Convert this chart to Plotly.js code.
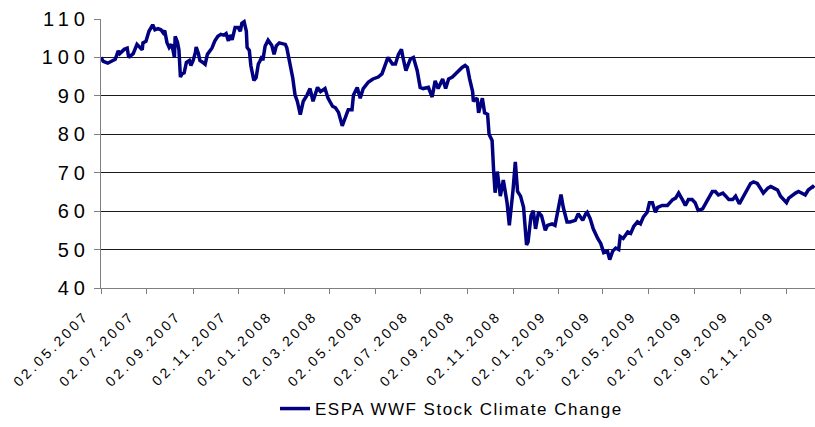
<!DOCTYPE html>
<html>
<head>
<meta charset="utf-8">
<script src="https://cdn.plot.ly/plotly-3.0.1.min.js"></script>
<style>
  html, body { margin: 0; padding: 0; background: #fff; }
  #chart { width: 815px; height: 427px; }
  .xtick text { letter-spacing: 3px; }
  .ytick text { letter-spacing: 5px; }
  .legendtext { letter-spacing: 1.5px; }
</style>
</head>
<body>
<div id="chart"></div>
<script>
const seriesName = "ESPA WWF Stock Climate Change";

const dates = [
  "2007-05-02","2007-05-05","2007-05-11","2007-05-17","2007-05-21","2007-05-25","2007-05-27","2007-06-02","2007-06-06","2007-06-08",
  "2007-06-14","2007-06-19","2007-06-23","2007-06-26","2007-06-27","2007-07-01","2007-07-05","2007-07-10","2007-07-13","2007-07-17",
  "2007-07-21","2007-07-24","2007-07-26","2007-07-29","2007-08-01","2007-08-04","2007-08-06","2007-08-08","2007-08-09","2007-08-12",
  "2007-08-14","2007-08-16","2007-08-18","2007-08-21","2007-08-24","2007-08-28","2007-08-30","2007-09-02","2007-09-05","2007-09-06",
  "2007-09-09","2007-09-11","2007-09-15","2007-09-18","2007-09-21","2007-09-23","2007-09-27","2007-10-01","2007-10-05","2007-10-09",
  "2007-10-13","2007-10-16","2007-10-19","2007-10-21","2007-10-24","2007-10-28","2007-11-01","2007-11-04","2007-11-06","2007-11-09",
  "2007-11-12","2007-11-13","2007-11-16","2007-11-18","2007-11-22","2007-11-25","2007-11-28","2007-11-30","2007-12-03","2007-12-04",
  "2007-12-07","2007-12-11","2007-12-14","2007-12-16","2007-12-19","2007-12-22","2007-12-26","2007-12-30","2008-01-03","2008-01-05",
  "2008-01-08","2008-01-11","2008-01-13","2008-01-16","2008-01-19","2008-01-23","2008-01-27","2008-02-01","2008-02-05","2008-02-09",
  "2008-02-15","2008-02-19","2008-02-25","2008-02-29","2008-03-06","2008-03-10","2008-03-14","2008-03-19","2008-03-23","2008-03-27",
  "2008-04-01","2008-04-03","2008-04-08","2008-04-12","2008-04-16","2008-04-23","2008-04-29","2008-05-06","2008-05-11","2008-05-15",
  "2008-05-19","2008-05-25","2008-05-29","2008-06-02","2008-06-06","2008-06-08","2008-06-12","2008-06-18","2008-06-22","2008-06-27",
  "2008-07-01","2008-07-05","2008-07-12","2008-07-17","2008-07-21","2008-07-25","2008-07-31","2008-08-04","2008-08-08","2008-08-13",
  "2008-08-17","2008-08-21","2008-08-26","2008-08-30","2008-09-02","2008-09-05","2008-09-09","2008-09-10","2008-09-15","2008-09-17",
  "2008-09-22","2008-09-25","2008-09-29","2008-10-01","2008-10-05","2008-10-07","2008-10-09","2008-10-12","2008-10-16","2008-10-20",
  "2008-10-25","2008-10-28","2008-11-01","2008-11-02","2008-11-05","2008-11-08","2008-11-12","2008-11-16","2008-11-20","2008-11-22",
  "2008-11-26","2008-11-29","2008-12-02","2008-12-06","2008-12-10","2008-12-15","2008-12-18","2008-12-24","2008-12-28","2009-01-01",
  "2009-01-05","2009-01-08","2009-01-13","2009-01-17","2009-01-24","2009-01-28","2009-02-03","2009-02-07","2009-02-09","2009-02-13",
  "2009-02-17","2009-02-23","2009-02-27","2009-03-03","2009-03-08","2009-03-11","2009-03-15","2009-03-19","2009-03-23","2009-03-25",
  "2009-03-29","2009-04-04","2009-04-08","2009-04-12","2009-04-17","2009-04-21","2009-04-25","2009-04-30","2009-05-03","2009-05-07",
  "2009-05-11","2009-05-14","2009-05-20","2009-05-27","2009-06-03","2009-06-07","2009-06-11","2009-06-16","2009-06-20","2009-06-24",
  "2009-06-29","2009-07-03","2009-07-07","2009-07-13","2009-07-17","2009-07-21","2009-07-26","2009-07-30","2009-08-03","2009-08-09",
  "2009-08-13","2009-08-17","2009-08-22","2009-08-26","2009-08-31","2009-09-06","2009-09-11","2009-09-15","2009-09-19","2009-09-24",
  "2009-09-28","2009-10-02","2009-10-08","2009-10-12","2009-10-16","2009-10-21","2009-10-25","2009-10-29","2009-11-02","2009-11-05",
  "2009-11-10","2009-11-14","2009-11-18","2009-11-23","2009-11-27","2009-12-01","2009-12-07","2009-12-09"
];

const values = [
  100, 99, 98.5, 99, 99.5, 101.7, 101, 102.1, 102.4, 100,
  101, 103.4, 102.5, 102, 103.8, 104.2, 106.8, 108.5, 107.2, 107.5,
  107.2, 106.4, 107, 103.9, 102.6, 103.4, 102, 100, 105.5, 104,
  102, 94.9, 95.7, 96, 98.7, 99.2, 97.9, 99.2, 101.3, 102.7,
  101, 99.2, 98.7, 98.2, 100.8, 101.3, 102.4, 104.3, 105.5, 106,
  105.8, 106.2, 104.3, 105.8, 104.6, 107.8, 107.8, 106.8, 108.9, 109.3,
  106.8, 102.6, 101.8, 97.9, 94, 94.7, 98.3, 99, 100.3, 99.2,
  102.9, 104.5, 103.7, 103.1, 100.8, 103, 103.8, 103.5, 103.4, 102.5,
  99.6, 96.6, 94.6, 90.2, 88.6, 85.1, 88.6, 90.2, 91.9, 88.6,
  92.2, 91.1, 91.9, 89.4, 87.3, 86.9, 85.7, 82.2, 84.2, 86.4,
  86.4, 90.2, 92.2, 89.4, 91.9, 93.6, 94.4, 94.9, 95.7, 97.8,
  100, 98.3, 98.3, 100.8, 102.1, 100, 96.6, 99.6, 100, 96.6,
  92.2, 91.9, 92.2, 89.7, 93.9, 91.9, 94.4, 91.9, 94.4, 94.9,
  95.7, 96.6, 97.4, 97.9, 97.4, 94.4, 91.1, 88.6, 89.4, 85.6,
  89.4, 85.6, 85.2, 80, 78.4, 70.7, 64.8, 70.3, 63.9, 68.1,
  62.2, 56.3, 62.6, 65.6, 72.8, 65.1, 63.9, 61, 51.2, 52,
  58.8, 60.1, 55.4, 59.7, 58.8, 55, 56.3, 56.7, 56.3, 60.5,
  64.3, 61, 57.2, 57.2, 57.6, 59.3, 57.6, 59.3, 59.7, 58,
  55.4, 52.9, 51.6, 49.2, 49.6, 47.4, 49.6, 50.4, 50, 53.4,
  52.9, 54.6, 54.2, 56, 57.2, 56.7, 58.5, 59.7, 62.2, 62.2,
  59.7, 61, 61.5, 61.5, 63, 63.4, 64.7, 63, 61.5, 63,
  63, 62.2, 60.2, 60.6, 62.2, 63.4, 65.1, 65.1, 64.2, 64.7,
  63.9, 63, 63, 63.9, 61.9, 63.9, 65.5, 67.2, 67.6, 67.2,
  66, 64.7, 66, 66.4, 66, 65.5, 63.9, 63, 62.2, 63.4,
  64.2, 64.7, 65.1, 64.7, 64.2, 65.5, 66.4, 66
];

const xTickDates = [
  "2007-05-02","2007-07-02","2007-09-02","2007-11-02","2008-01-02","2008-03-02","2008-05-02","2008-07-02",
  "2008-09-02","2008-11-02","2009-01-02","2009-03-02","2009-05-02","2009-07-02","2009-09-02","2009-11-02"
];
const xTickLabels = [
  "02.05.2007","02.07.2007","02.09.2007","02.11.2007","02.01.2008","02.03.2008","02.05.2008","02.07.2008",
  "02.09.2008","02.11.2008","02.01.2009","02.03.2009","02.05.2009","02.07.2009","02.09.2009","02.11.2009"
];
const yTickVals = [40, 50, 60, 70, 80, 90, 100, 110];

const trace = {
  type: "scatter",
  mode: "lines",
  name: seriesName,
  x: dates,
  y: values,
  line: { color: "#000080", width: 3.5 },
  showlegend: true
};

const layout = {
  width: 815,
  height: 427,
  margin: { l: 101, r: 0, t: 19, b: 133 },
  paper_bgcolor: "#ffffff",
  plot_bgcolor: "#ffffff",
  font: { family: "Liberation Sans, Arial, sans-serif", color: "#000" },
  xaxis: {
    type: "date",
    range: ["2007-05-02", "2009-12-10"],
    tickmode: "array",
    tickvals: xTickDates,
    ticktext: xTickLabels,
    tickangle: -45,
    tickfont: { size: 14, color: "#000" },
    ticklabelshift: -16,
    ticklabelstandoff: 8,
    showgrid: false,
    showline: true,
    linecolor: "#808080",
    linewidth: 1,
    ticks: "outside",
    ticklen: 5,
    tickcolor: "#808080",
    zeroline: false,
    fixedrange: true
  },
  yaxis: {
    range: [40, 110],
    tickmode: "array",
    tickvals: yTickVals,
    tickfont: { size: 20, color: "#000" },
    showgrid: true,
    gridcolor: "#1a1a1a",
    gridwidth: 1,
    showline: true,
    linecolor: "#808080",
    linewidth: 1,
    ticks: "outside",
    ticklen: 6,
    tickcolor: "#808080",
    zeroline: false,
    fixedrange: true
  },
  showlegend: true,
  legend: {
    orientation: "h",
    x: 0.2437,
    xanchor: "left",
    y: -0.451,
    yanchor: "middle",
    font: { size: 17, color: "#000" },
    bgcolor: "rgba(0,0,0,0)"
  }
};

Plotly.newPlot("chart", [trace], layout, { displayModeBar: false, staticPlot: true });
</script>
</body>
</html>
